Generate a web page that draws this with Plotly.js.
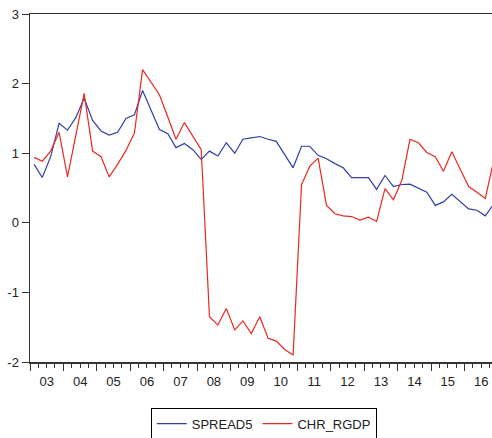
<!DOCTYPE html>
<html>
<head>
<meta charset="utf-8">
<script src="https://cdn.plot.ly/plotly-3.0.1.min.js"></script>
<style>html,body{margin:0;padding:0;background:#fff;}#chart{width:492px;height:438px;}</style>
</head>
<body>
<div id="chart"></div>
<script>
// Quarterly series, 2003Q1 .. 2016Q4
var startYear = 2003;
var nQuarters = 56;
var quarterMid = ['02-15', '05-15', '08-15', '11-15'];

var spread5 = [0.84,0.65,0.95,1.43,1.33,1.51,1.79,1.47,1.32,1.26,1.30,1.50,1.55,1.90,
  1.62,1.34,1.28,1.08,1.14,1.05,0.91,1.03,0.96,1.15,1.00,1.20,1.22,
  1.24,1.20,1.17,0.98,0.79,1.10,1.10,0.97,0.92,0.85,0.79,0.65,0.65,0.65,
  0.48,0.68,0.52,0.55,0.555,0.50,0.44,0.25,0.30,0.41,0.30,0.20,0.18,0.10,0.27];

var chrRgdp = [0.94,0.885,1.03,1.30,0.66,1.26,1.86,1.03,0.95,0.66,0.84,1.04,1.29,2.20,
  2.02,1.84,1.52,1.20,1.44,1.24,1.05,
  -1.35,-1.47,-1.23,-1.54,-1.41,-1.59,-1.35,-1.66,-1.70,-1.82,-1.90,
  0.55,0.81,0.93,0.25,0.13,0.10,0.09,0.04,0.08,
  0.02,0.49,0.33,0.61,1.20,1.15,1.01,0.95,0.74,1.02,0.77,0.52,0.44,0.35,0.90];

var yTickVals = [-2, -1, 0, 1, 2, 3];
var yTickText = ['-2', '-1', '0', '1', '2', '3'];

var dates = [];
for (var i = 0; i < nQuarters; i++) {
  var y = startYear + Math.floor(i / 4);
  dates.push(y + '-' + quarterMid[i % 4]);
}

var traces = [
  {x: dates, y: spread5, name: 'SPREAD5', type: 'scatter', mode: 'lines',
   line: {color: '#2f3fa6', width: 1.2}},
  {x: dates, y: chrRgdp, name: 'CHR_RGDP', type: 'scatter', mode: 'lines',
   line: {color: '#e8291f', width: 1.2}}
];

var layout = {
  width: 492, height: 438,
  margin: {l: 30, r: 0, t: 14, b: 76, autoexpand: false},
  paper_bgcolor: '#fff', plot_bgcolor: '#fff',
  font: {family: 'Liberation Sans, Arial, sans-serif', size: 13, color: '#222'},
  showlegend: true,
  legend: {orientation: 'h', x: 0.506, xanchor: 'center', y: -0.131, yanchor: 'top',
    bordercolor: '#000', borderwidth: 1, font: {size: 13, color: '#222'},
    itemwidth: 30, tracegroupgap: 0},
  xaxis: {
    type: 'date',
    range: ['2003-01-01', '2016-10-27'],
    tick0: '2003-01-01', dtick: 'M12', tickformat: '%y', ticklabelmode: 'period',
    ticks: 'outside', ticklen: 7, tickwidth: 1, tickcolor: '#333',
    minor: {dtick: 'M3', tick0: '2003-01-01', ticks: 'outside', ticklen: 4, tickwidth: 1, tickcolor: '#333', showgrid: false},
    showline: true, linecolor: '#333', linewidth: 1.5, mirror: true,
    showgrid: false, zeroline: false,
    tickfont: {size: 13, color: '#222'}
  },
  yaxis: {
    range: [-2, 3],
    tickvals: yTickVals, ticktext: yTickText,
    ticks: 'outside', ticklen: 7, tickwidth: 1, tickcolor: '#333',
    showline: true, linecolor: '#333', linewidth: 1.5,
    showgrid: false, zeroline: false,
    tickfont: {size: 13, color: '#222'}
  }
};

Plotly.newPlot('chart', traces, layout, {displayModeBar: false, staticPlot: true});
</script>
</body>
</html>
